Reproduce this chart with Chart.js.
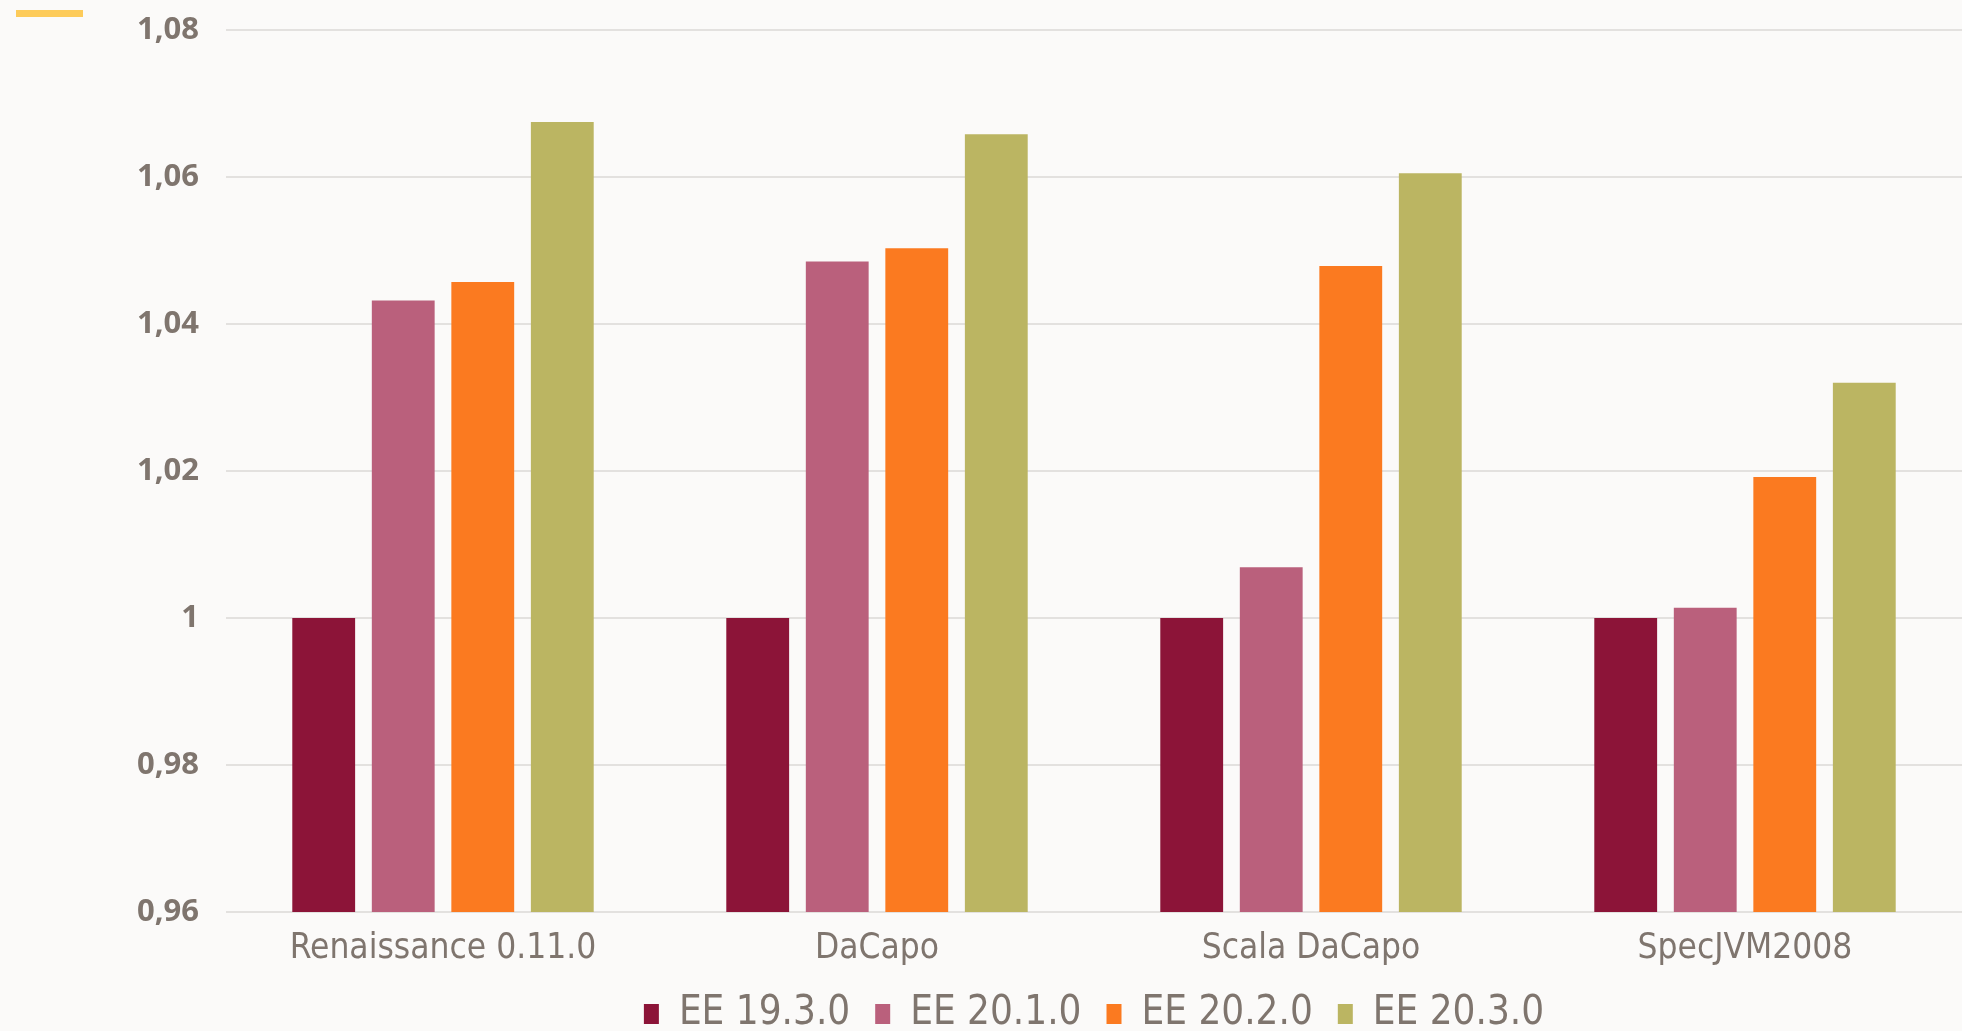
<!DOCTYPE html>
<html>
<head>
<meta charset="utf-8">
<script src="https://cdn.jsdelivr.net/npm/chart.js@4.4.1/dist/chart.umd.min.js"></script>
<style>
  html, body { margin: 0; padding: 0; background: #FBFAF9; }
  #wrap { position: relative; width: 1962px; height: 1031px; }
  #accent { position: absolute; left: 16px; top: 10px; width: 67px; height: 7px; background: #FDCB5A; }
</style>
</head>
<body>
<div id="wrap">
  <div id="accent"></div>
  <canvas id="chart"></canvas>
</div>
<script>
// benchmarks and GraalVM EE versions
const categories = ['Renaissance 0.11.0', 'DaCapo', 'Scala DaCapo', 'SpecJVM2008'];
const seriesNames = ['EE 19.3.0', 'EE 20.1.0', 'EE 20.2.0', 'EE 20.3.0'];
const ee1930 = [1, 1, 1, 1];
const ee2010 = [1.0432, 1.0485, 1.0069, 1.0014];
const ee2020 = [1.0457, 1.0503, 1.0479, 1.0192];
const ee2030 = [1.0675, 1.0658, 1.0605, 1.0320];
const yTicks = [0.96, 0.98, 1, 1.02, 1.04, 1.06, 1.08];

const colors = ['#8C1438', '#BA607C', '#FB7A20', '#BBB562'];
const textColor = '#7F756E';
const narrow = "'DejaVu Sans Condensed', 'Roboto', sans-serif";

const ctx = document.getElementById('chart').getContext('2d');
new Chart(ctx, {
    type: 'bar',
    data: {
        labels: categories,
        datasets: [ee1930, ee2010, ee2020, ee2030].map((d, i) => ({
            label: seriesNames[i],
            data: d,
            backgroundColor: colors[i],
            categoryPercentage: 0.733,
            barPercentage: 0.79,
        }))
    },
    options: {
        responsive: true,
        maintainAspectRatio: false,
        animation: false,
        layout: { padding: { top: 30, right: 0, left: 0, bottom: -13 } },
        plugins: {
            legend: {
                position: 'bottom',
                fullSize: false,
                labels: {
                    color: textColor,
                    font: { family: narrow, size: 40 },
                    boxWidth: 15,
                    boxHeight: 20,
                    padding: 25,
                }
            },
            tooltip: { enabled: false }
        },
        scales: {
            x: {
                grid: { display: false, drawTicks: false },
                border: { display: false },
                afterFit: (s) => { s.height = 57; },
                ticks: {
                    color: textColor,
                    font: { family: narrow, size: 35 },
                    padding: 16,
                }
            },
            y: {
                min: yTicks[0],
                max: yTicks[yTicks.length - 1],
                afterBuildTicks: (s) => { s.ticks = yTicks.map(v => ({ value: v })); },
                afterFit: (s) => { s.width = 226; s.paddingTop = 0; s.paddingBottom = 0; },
                grid: { color: '#E3E1DF', lineWidth: 2, drawTicks: false },
                border: { display: false },
                ticks: {
                    color: textColor,
                    font: { family: 'Open Sans', size: 31, weight: 'bold' },
                    padding: 27,
                    callback: (v) => String(Math.round(v * 100) / 100).replace('.', ',')
                }
            }
        }
    }
});
</script>
</body>
</html>
